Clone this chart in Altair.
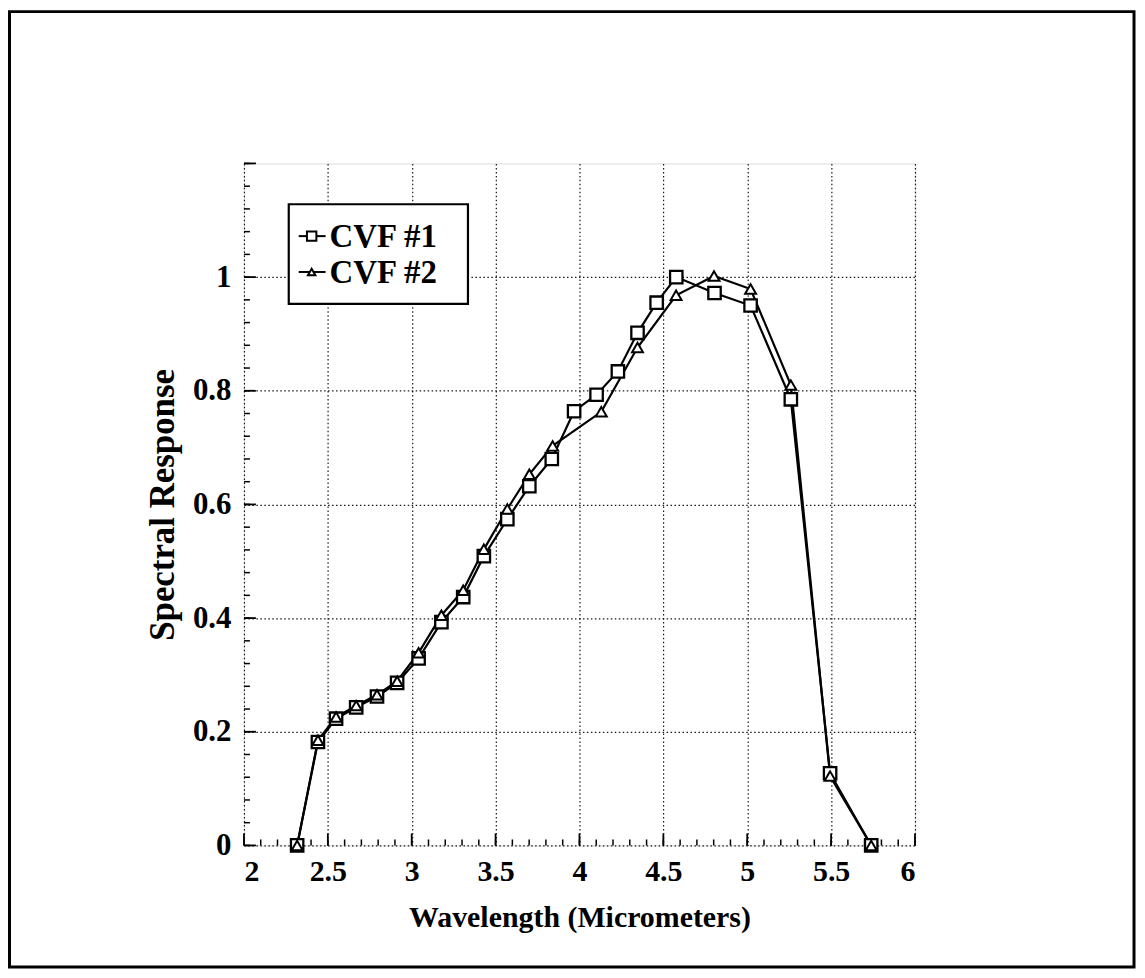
import altair as alt
import numpy as np
import pandas as pd

# ---- data ----
cvf1_x = [2.317, 2.441, 2.549, 2.669, 2.793, 2.913, 3.041, 3.177, 3.307, 3.430, 3.570, 3.701,
          3.835, 3.968, 4.102, 4.229, 4.346, 4.460, 4.577, 4.805, 5.020, 5.260, 5.494, 5.739]
cvf1_y = [0.0, 0.182, 0.223, 0.243, 0.262, 0.286, 0.329, 0.393, 0.437, 0.509, 0.574, 0.632,
          0.680, 0.764, 0.793, 0.834, 0.902, 0.955, 1.000, 0.972, 0.950, 0.785, 0.127, 0.0]

cvf2_x = [2.317, 2.441, 2.549, 2.669, 2.793, 2.913, 3.041, 3.177, 3.307, 3.430, 3.570, 3.701,
          3.840, 4.130, 4.346, 4.576, 4.802, 5.020, 5.260, 5.494, 5.739]
cvf2_y = [0.0, 0.185, 0.226, 0.246, 0.265, 0.289, 0.339, 0.405, 0.449, 0.521, 0.592, 0.653,
          0.703, 0.763, 0.876, 0.968, 1.002, 0.979, 0.810, 0.122, 0.0]

series_names = ["CVF #1", "CVF #2"]
x_label_values = [2, 2.5, 3, 3.5, 4, 4.5, 5, 5.5, 6]
y_label_values = [0, 0.2, 0.4, 0.6, 0.8, 1.0]
x_minor_ticks = [round(v, 2) for v in np.arange(2.0, 6.0001, 0.1)]
y_minor_ticks = [round(v, 2) for v in np.arange(0.0, 1.2001, 0.04)]
x_major_ticks = x_label_values
y_major_ticks = y_label_values + [1.2]

W, H = 674, 685
FONT = "Liberation Serif"

df1 = pd.DataFrame({"x": cvf1_x, "y": cvf1_y, "s": series_names[0]})
df2 = pd.DataFrame({"x": cvf2_x, "y": cvf2_y, "s": series_names[1]})
one = pd.DataFrame({"a": [0]})

xs = alt.Scale(domain=[2, 6], nice=False, zero=False)
ys = alt.Scale(domain=[0, 1.2], nice=False, zero=False)

xaxis = alt.Axis(values=x_label_values, format="~g", title="Wavelength (Micrometers)",
                 grid=True, gridColor="black", gridDash=[1.5, 2.5], gridWidth=1.2, gridOpacity=0.9,
                 ticks=False, domain=False, labelFont=FONT, labelFontWeight="bold",
                 labelFontSize=30, labelColor="black", labelPadding=11,
                 titleFont=FONT, titleFontWeight="bold", titleFontSize=30,
                 titleColor="black", titlePadding=16)
yaxis = alt.Axis(values=y_label_values, format="~g", title="Spectral Response",
                 grid=True, gridColor="black", gridDash=[1.5, 2.5], gridWidth=1.2, gridOpacity=0.9,
                 ticks=False, domain=False, labelFont=FONT, labelFontWeight="bold",
                 labelFontSize=31, labelColor="black", labelPadding=13,
                 titleFont=FONT, titleFontWeight="bold", titleFontSize=35,
                 titleColor="black", titlePadding=12)

base_grid = alt.Chart(df1).mark_point(opacity=0).encode(
    x=alt.X("x:Q", scale=xs, axis=xaxis),
    y=alt.Y("y:Q", scale=ys, axis=yaxis),
)

line1 = alt.Chart(df1).mark_line(color="black", strokeWidth=2.2).encode(
    x=alt.X("x:Q", scale=xs), y=alt.Y("y:Q", scale=ys))
line2 = alt.Chart(df2).mark_line(color="black", strokeWidth=2.2).encode(
    x=alt.X("x:Q", scale=xs), y=alt.Y("y:Q", scale=ys))
pts1 = alt.Chart(df1).mark_point(shape="square", size=155, filled=True, fill="white",
                                 stroke="black", strokeWidth=2.3, opacity=1).encode(
    x=alt.X("x:Q", scale=xs), y=alt.Y("y:Q", scale=ys))
pts2 = alt.Chart(df2).mark_point(shape="triangle-up", size=120, filled=True, fill="white",
                                 stroke="black", strokeWidth=2.0, opacity=1).encode(
    x=alt.X("x:Q", scale=xs), y=alt.Y("y:Q", scale=ys))

# inward ticks
xminor = alt.Chart(pd.DataFrame({"t": x_minor_ticks})).mark_rule(color="black", strokeWidth=1.5).encode(
    x=alt.X("t:Q", scale=xs), y=alt.value(H), y2=alt.value(H - 6))
xmajor = alt.Chart(pd.DataFrame({"t": x_major_ticks})).mark_rule(color="black", strokeWidth=1.8).encode(
    x=alt.X("t:Q", scale=xs), y=alt.value(H), y2=alt.value(H - 12))
yminor = alt.Chart(pd.DataFrame({"t": y_minor_ticks})).mark_rule(color="black", strokeWidth=1.5).encode(
    y=alt.Y("t:Q", scale=ys), x=alt.value(0), x2=alt.value(6))
ymajor = alt.Chart(pd.DataFrame({"t": y_major_ticks})).mark_rule(color="black", strokeWidth=1.8).encode(
    y=alt.Y("t:Q", scale=ys), x=alt.value(0), x2=alt.value(12))

# legend box
leg_box = alt.Chart(one).mark_rect(fill="white", stroke="black", strokeWidth=2.2).encode(
    x=alt.value(45), x2=alt.value(225), y=alt.value(41), y2=alt.value(141))
leg_layers = []
for i, (name, shp, sz) in enumerate([(series_names[0], "square", 90), (series_names[1], "triangle-up", 55)]):
    ry = 73 + i * 36
    leg_layers.append(alt.Chart(one).mark_rule(color="black", strokeWidth=2).encode(
        x=alt.value(55), x2=alt.value(82), y=alt.value(ry)))
    leg_layers.append(alt.Chart(one).mark_point(shape=shp, size=sz, filled=True, fill="white",
                                                stroke="black", strokeWidth=2, opacity=1).encode(
        x=alt.value(68), y=alt.value(ry)))
    leg_layers.append(alt.Chart(pd.DataFrame({"label": [name]})).mark_text(
        font=FONT, fontWeight="bold", fontSize=33, align="left", baseline="middle",
        color="black").encode(x=alt.value(86), y=alt.value(ry + 1), text="label:N"))

# outer figure border
outer = alt.Chart(one).mark_rect(fill=None, fillOpacity=0, stroke="black", strokeWidth=3).encode(
    x=alt.value(-235.5), x2=alt.value(894), y=alt.value(-152.5), y2=alt.value(807))

chart = alt.layer(
    outer, base_grid, xminor, xmajor, yminor, ymajor,
    line1, line2, pts1, pts2, leg_box, *leg_layers
).properties(
    width=W, height=H,
    autosize=alt.AutoSizeParams(type="none"),
    padding={"left": 237, "top": 154, "right": 223, "bottom": 125},
).configure_view(
    stroke="black", strokeWidth=2.5
).configure(background="white")

chart.save("out.html", embed_options={"renderer": "svg", "actions": False})
